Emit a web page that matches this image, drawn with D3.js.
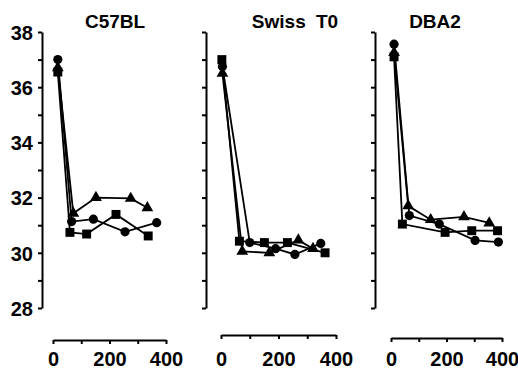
<!DOCTYPE html>
<html>
<head>
<meta charset="utf-8">
<script src="https://cdn.jsdelivr.net/npm/d3@7"></script>
<style>
  html, body { margin: 0; padding: 0; background: #fff; }
  svg { display: block; }
  .axis path, .axis line { stroke: #000; stroke-width: 2; }
  .axis text { font-family: "Liberation Sans", Arial, sans-serif; font-weight: bold; fill: #000; }
  .title { font-family: "Liberation Sans", Arial, sans-serif; font-weight: bold; font-size: 19px; fill: #000; }
</style>
</head>
<body>
<div id="chart"></div>
<script>
// strains (panel titles)
const strains = ['C57BL', 'Swiss T0', 'DBA2'];

// tick values
const yTicks = [28, 29, 30, 31, 32, 33, 34, 35, 36, 37, 38];
const yLabels = [28, 30, 32, 34, 36, 38];
const xTicks = [0, 100, 200, 300, 400];
const xLabels = [0, 200, 400];

// [time, temperature]
const c57Circle   = [[17, 37.0], [66, 31.13], [143, 31.22], [255, 30.76], [367, 31.09]];
const c57Triangle = [[17, 36.7], [72, 31.43], [152, 32.0], [275, 31.97], [334, 31.63]];
const c57Square   = [[17, 36.55], [60, 30.74], [119, 30.68], [223, 31.39], [337, 30.61]];

const swissCircle   = [[5, 36.75], [100, 30.37], [190, 30.15], [257, 29.94], [347, 30.34]];
const swissTriangle = [[5, 36.5], [74, 30.05], [168, 30.0], [269, 30.46], [320, 30.15]];
const swissSquare   = [[3, 37.0], [64, 30.42], [151, 30.37], [231, 30.37], [362, 30.0]];

const dbaCircle   = [[11, 37.56], [66, 31.35], [174, 31.04], [303, 30.45], [387, 30.39]];
const dbaTriangle = [[11, 37.25], [62, 31.7], [143, 31.2], [263, 31.3], [354, 31.08]];
const dbaSquare   = [[11, 37.1], [41, 31.04], [195, 30.74], [291, 30.8], [384, 30.8]];

const seriesByStrain = [
  { circle: c57Circle, triangle: c57Triangle, square: c57Square },
  { circle: swissCircle, triangle: swissTriangle, square: swissSquare },
  { circle: dbaCircle, triangle: dbaTriangle, square: dbaSquare },
];

const width = 518, height = 369;
const layout = [
  { axisX: 42,  xRange: [53, 166],  xAxisY: 340, titleX: 115 },
  { axisX: 206, xRange: [221, 336], xAxisY: 335, titleX: 295 },
  { axisX: 375, xRange: [391, 502], xAxisY: 338, titleX: 435 },
];
const labelBaseline = 366;

const svg = d3.select('#chart').append('svg').attr('width', width).attr('height', height);
const y = d3.scaleLinear().domain([28, 38]).range([308, 32]);
const line = (x) => d3.line().x((d) => x(d[0])).y((d) => y(d[1]));

strains.forEach((name, i) => {
  const L = layout[i];
  const x = d3.scaleLinear().domain([0, 400]).range(L.xRange);
  const g = svg.append('g');

  g.append('text')
    .attr('class', 'title')
    .attr('x', L.titleX)
    .attr('y', 28)
    .attr('text-anchor', 'middle')
    .attr('word-spacing', 5)
    .text(name);

  const yAxis = g.append('g')
    .attr('class', 'axis')
    .attr('transform', `translate(${L.axisX},0)`)
    .call(d3.axisLeft(y).tickValues(yTicks).tickSize(4).tickSizeOuter(0).tickPadding(5)
      .tickFormat((d) => (i === 0 && yLabels.includes(d) ? d : '')));
  yAxis.selectAll('text').attr('font-size', 20).attr('dy', '0.36em');

  const xAxis = g.append('g')
    .attr('class', 'axis')
    .attr('transform', `translate(0,${L.xAxisY})`)
    .call(d3.axisBottom(x).tickValues(xTicks).tickSize(4).tickSizeOuter(0)
      .tickFormat((d) => (xLabels.includes(d) ? d : '')));
  xAxis.selectAll('text')
    .attr('font-size', 20)
    .attr('dy', null)
    .attr('y', labelBaseline - L.xAxisY);

  const s = seriesByStrain[i];
  ['square', 'triangle', 'circle'].forEach((key) => {
    g.append('path')
      .datum(s[key])
      .attr('d', line(x))
      .attr('fill', 'none')
      .attr('stroke', '#000')
      .attr('stroke-width', 1.8);
  });

  g.selectAll('.pt-sq').data(s.square).join('path')
    .attr('transform', (d) => `translate(${x(d[0])},${y(d[1])})`)
    .attr('d', d3.symbol(d3.symbolSquare, 80));
  g.selectAll('.pt-tri').data(s.triangle).join('path')
    .attr('transform', (d) => `translate(${x(d[0])},${y(d[1])})`)
    .attr('d', d3.symbol(d3.symbolTriangle, 60));
  g.selectAll('.pt-ci').data(s.circle).join('circle')
    .attr('cx', (d) => x(d[0]))
    .attr('cy', (d) => y(d[1]))
    .attr('r', 4.6);
});
</script>
</body>
</html>
